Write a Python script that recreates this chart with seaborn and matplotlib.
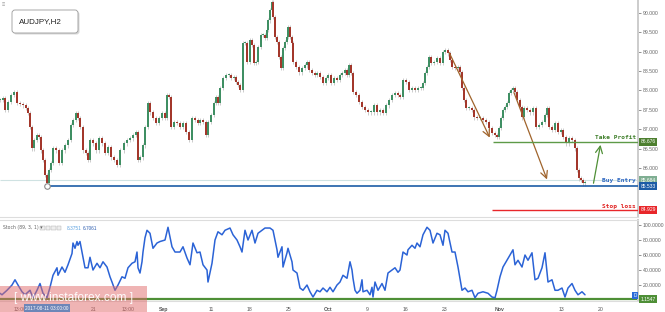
import matplotlib
matplotlib.use("Agg")
import matplotlib.pyplot as plt
import matplotlib.transforms as mtransforms
from matplotlib.patches import FancyBboxPatch, Rectangle
import seaborn as sns
import pandas as pd
import numpy as np

# ---------------- data (time axis in chart time-units, ~3 trading hours each) ----------------
price_t = [0, 3, 5, 8, 11, 14, 17, 20, 23, 26,
           28, 30, 32, 34, 37, 39, 41, 43, 45, 47,
           49, 51, 53, 56, 59, 62, 65, 68, 71, 73,
           76, 78, 80, 83, 86, 88, 90, 93, 96, 99,
           102, 105, 108, 111, 114, 117, 120, 124, 127, 130,
           133, 136, 138, 140, 143, 145, 148, 150, 153, 156,
           159, 162, 165, 167, 169, 171, 174, 177, 180, 183,
           186, 189, 192, 195, 198, 200, 203, 206, 208, 211,
           214, 216, 218, 220, 223, 226, 229, 231, 234, 236,
           238, 240, 243, 245, 247, 250, 252, 254, 256, 258,
           261, 263, 265, 267, 268, 270, 272, 273, 275, 277,
           279, 281, 283, 285, 287, 288, 290, 292, 293, 296,
           299, 302, 305, 307, 309, 312, 315, 317, 320, 323,
           326, 328, 331, 334, 337, 340, 342, 345, 347, 349,
           351, 353, 356, 359, 362, 365, 368, 371, 374, 377,
           380, 383, 386, 389, 392, 395, 398, 400, 403, 406,
           409, 412, 415, 418, 421, 423, 425, 427, 429, 431,
           434, 437, 440, 443, 445, 448, 450, 452, 455, 458,
           460, 462, 464, 466, 469, 472, 474, 477, 480, 483,
           486, 489, 492, 495, 497, 499, 501, 503, 505, 507,
           509, 511, 513, 515, 517, 520, 522, 524, 527, 530,
           533, 536, 539, 542, 545, 547, 549, 552, 555, 558,
           561, 563, 566, 569, 572, 575, 577, 579, 581, 583,
           585]
price_close = [87.75, 87.80, 87.50, 87.70, 87.88, 87.96, 87.68, 87.65, 87.62, 87.55,
               87.42, 87.06, 86.51, 86.72, 86.85, 86.80, 86.46, 86.21, 85.82, 85.61,
               85.95, 86.13, 86.51, 86.46, 86.13, 86.46, 86.59, 86.72, 87.11, 87.24,
               87.42, 87.29, 87.06, 86.46, 86.39, 86.21, 86.72, 86.64, 86.46, 86.77,
               86.64, 86.39, 86.54, 86.28, 86.21, 86.08, 86.46, 86.64, 86.72, 86.77,
               86.85, 86.93, 86.21, 86.28, 86.59, 87.06, 87.68, 87.44, 87.29, 87.16,
               87.29, 87.42, 87.29, 87.88, 87.83, 87.06, 87.19, 87.16, 87.06, 87.16,
               86.93, 86.72, 87.29, 87.24, 87.16, 87.24, 87.19, 86.85, 87.19, 87.37,
               87.68, 87.83, 87.68, 88.06, 88.32, 88.40, 88.40, 88.32, 88.35, 88.22,
               88.14, 88.01, 89.22, 89.22, 88.73, 89.30, 89.17, 88.71, 88.73, 89.12,
               89.43, 89.43, 89.35, 89.56, 89.81, 90.07, 90.28, 89.89, 89.38, 89.25,
               88.86, 88.58, 89.09, 89.25, 89.38, 89.63, 89.38, 89.22, 88.73, 88.60,
               88.47, 88.58, 88.65, 88.73, 88.53, 88.45, 88.40, 88.45, 88.35, 88.19,
               88.32, 88.40, 88.19, 88.32, 88.27, 88.40, 88.45, 88.53, 88.40, 88.65,
               88.45, 87.96, 87.88, 87.70, 87.57, 87.50, 87.44, 87.44, 87.62, 87.44,
               87.50, 87.42, 87.62, 87.75, 87.88, 87.93, 87.88, 87.83, 88.27, 88.22,
               88.01, 88.06, 88.01, 88.06, 88.06, 88.19, 88.45, 88.60, 88.86, 88.71,
               88.73, 88.84, 88.71, 88.99, 89.04, 88.96, 88.78, 88.60, 88.58, 88.60,
               88.47, 88.06, 87.75, 87.55, 87.55, 87.50, 87.31, 87.29, 87.29, 87.24,
               87.19, 87.03, 86.90, 86.85, 86.80, 87.03, 87.29, 87.50, 87.57, 87.68,
               87.93, 88.01, 88.06, 87.96, 87.75, 87.57, 87.31, 87.55, 87.50, 87.44,
               87.55, 87.06, 87.11, 87.19, 87.37, 87.55, 87.06, 86.98, 87.16, 86.93,
               86.98, 86.80, 86.64, 86.77, 86.72, 86.51, 85.95, 85.74, 85.69, 85.61,
               85.64]

stoch_t = [0, 2, 7, 12, 15, 18, 22, 25, 30, 33,
           37, 40, 43, 47, 50, 53, 57, 58, 62, 65,
           68, 72, 73, 75, 77, 78, 80, 82, 85, 88,
           90, 93, 97, 100, 103, 107, 110, 112, 115, 118,
           122, 125, 128, 132, 135, 137, 138, 140, 142, 143,
           145, 147,
           150, 153, 157, 160, 165, 168, 172, 175, 180, 183,
           187, 190, 193, 197, 200, 203, 207, 208, 212, 215,
           218, 222, 225, 230, 233, 237, 240, 242, 245, 248,
           252, 255, 258, 262, 265, 270, 273, 277, 278, 282,
           283, 287, 288, 292, 293, 297, 300, 303, 307, 310,
           313, 317, 320, 323, 327, 330, 333, 337, 340, 343,
           347, 350, 352, 353, 355, 357, 360, 362, 363, 367,
           370, 372, 373, 375, 378, 382, 385, 388, 392, 395,
           398,
           400, 402, 403, 407, 408, 412, 415, 417, 420, 423,
           427, 430, 433, 437, 440, 443, 445, 448, 452, 455,
           458, 462, 465, 468, 472, 475, 478, 483, 488, 492,
           495, 497, 500, 503, 507, 510, 513, 515, 518, 522,
           525, 528, 532, 535, 538, 542, 545, 548, 552, 555,
           558, 562, 565, 568, 572, 575, 578, 582, 585]
stoch_k = [9, 7, 13, 20, 27, 20, 11, 7, 13, 3,
           13, 22, 9, 3, 17, 33, 43, 33, 44, 37,
           47, 62, 76, 69, 78, 73, 78, 64, 43, 43,
           57, 40, 49, 43, 51, 44, 31, 24, 13, 20,
           31, 29, 43, 49, 51, 64, 43, 36, 51, 64,
           83, 93,
           89, 69, 76, 78, 80, 97, 71, 64, 64, 71,
           56, 47, 76, 63, 64, 47, 40, 24, 49, 80,
           91, 87, 93, 96, 87, 80, 71, 64, 93, 80,
           93, 76, 89, 93, 96, 96, 93, 67, 57, 71,
           44, 63, 69, 51, 40, 36, 16, 13, 20, 11,
           4, 13, 11, 16, 11, 17, 11, 20, 24, 33,
           29, 51, 40, 29, 13, 9, 13, 27, 11, 13,
           7, 17, 4, 24, 13, 22, 13, 36, 40, 43,
           37,
           40, 56, 64, 60, 67, 73, 69, 76, 71, 87,
           97, 93, 76, 89, 87, 73, 93, 89, 64, 64,
           44, 13, 16, 11, 13, 3, 9, 11, 9, 4,
           3, 13, 31, 44, 53, 60, 67, 47, 53, 44,
           60, 53, 63, 27, 29, 43, 63, 24, 27, 13,
           13, 16, 4, 16, 22, 13, 7, 11, 7]

x_tick_pos = [20, 94, 128, 164, 211, 250, 289, 328, 367, 406, 445, 500, 562, 601]
x_tick_lab = ["13:00", "21", "13:00", "Sep", "11", "18", "25", "Oct", "9", "16", "23", "Nov", "13", "20"]
price_ticks = [86.0, 86.5, 87.0, 87.5, 88.0, 88.5, 89.0, 89.5, 90.0]
stoch_ticks = [20, 40, 60, 80, 100]

take_profit = 86.676
buy_entry = 85.533
stop_loss = 84.929
ref_level = 85.684
stoch_level = 1.1547
stoch_k_last, stoch_d_last = 8.3751, 6.7061

# ---------------- figure ----------------
sns.set_style("white")
plt.rcParams['font.family'] = ['Liberation Sans', 'DejaVu Sans']

W, H = 665, 312
fig = plt.figure(figsize=(W / 100, H / 100), dpi=100)
axw = 638 / W
ax = fig.add_axes([0, 1 - 217 / H, axw, 217 / H])
ax2 = fig.add_axes([0, 1 - 301 / H, axw, 81 / H])

# ---- price panel: candles ----
t = np.array(price_t, float)
c = np.array(price_close, float)
o = np.r_[c[0], c[:-1]]
up = c >= o
wick = 0.06
ax.vlines(t, np.minimum(o, c) - wick, np.maximum(o, c) + wick, color="#c4c4c4", lw=0.6, zorder=2)
body = np.maximum(np.abs(c - o), 0.02)
bot = np.minimum(o, c)
ax.bar(t[up], body[up], bottom=bot[up], width=1.3, color="#3f8f63", linewidth=0, zorder=3)
ax.bar(t[~up], body[~up], bottom=bot[~up], width=1.3, color="#a3372b", linewidth=0, zorder=3)

ax.set_xlim(0, 638)
ax.set_ylim(84.74, 90.33)
ax.yaxis.tick_right()
ax.set_yticks(price_ticks)
ax.set_yticklabels([f"{v:.3f}" for v in price_ticks])
ax.tick_params(axis="y", labelsize=3.7, colors="#666666", length=2, width=0.5, pad=1.5, direction="out")
ax.set_xticks([])
for s in ["left", "top"]:
    ax.spines[s].set_visible(False)
ax.spines["right"].set_color("#cccccc")
ax.spines["right"].set_linewidth(1.4)
ax.spines["bottom"].set_color("#dddddd")
ax.spines["bottom"].set_linewidth(0.8)

# levels
ax.hlines(ref_level, 0, 638, color="#cfe2e2", lw=0.8, zorder=1)
ax.hlines(buy_entry, 47, 638, color="#1d5ca6", lw=1.2, zorder=4)
ax.hlines(take_profit, 493, 638, color="#5e9a48", lw=1.0, zorder=4)
ax.hlines(stop_loss, 492, 638, color="#e8262a", lw=1.0, zorder=4)
ax.plot([47], [85.54], "o", mfc="white", mec="#8a8a8a", ms=4, mew=0.8, zorder=5)

mono = dict(family=["DejaVu Sans Mono"], fontsize=4.4, fontweight="bold", ha="right", va="center")
ax.text(636, 86.80, "Take Profit", color="#3f7f2a", **mono)
ax.text(636, 85.67, "Buy Entry", color="#2a64c0", **mono)
ax.text(636, 85.02, "Stop loss", color="#e0201f", **mono)

# arrows
arr = dict(arrowstyle="->,head_length=0.5,head_width=0.25", lw=0.9)
ax.annotate("", xy=(491, 86.72), xytext=(448, 89.04), arrowprops=dict(color="#a0642c", **arr))
ax.annotate("", xy=(548, 85.64), xytext=(513, 88.01), arrowprops=dict(color="#a0642c", **arr))
ax.annotate("", xy=(601, 86.67), xytext=(593, 85.54), arrowprops=dict(color="#4f8f36", **arr))

# right value boxes
blend = mtransforms.blended_transform_factory(ax.transAxes, ax.transData)
def vbox(a, tr, y, txt, fc):
    a.text(1.004, y, txt, transform=tr, fontsize=3.6, color="white", ha="left", va="center",
           bbox=dict(boxstyle="square,pad=0.28", fc=fc, ec="none"), clip_on=False, zorder=10)
vbox(ax, blend, take_profit, "86.676", "#4d7f2f")
vbox(ax, blend, ref_level, "85.684", "#7fae92")
vbox(ax, blend, buy_entry, "85.533", "#1d5ca6")
vbox(ax, blend, stop_loss, "84.929", "#e8262a")

# ---- stochastic panel ----
sdf = pd.DataFrame({"t": stoch_t, "k": stoch_k})
sns.lineplot(data=sdf, x="t", y="k", ax=ax2, color="#2b63d6", lw=1.1, zorder=3)
ax2.axhline(stoch_level, color="#4e8f36", lw=1.6, zorder=2)
ax2.set_xlim(0, 638)
ax2.set_ylim(-1.3, 106.7)
ax2.set_xlabel("")
ax2.set_ylabel("")
ax2.yaxis.tick_right()
ax2.set_yticks(stoch_ticks)
ax2.set_yticklabels([f"{v:.4f}" for v in stoch_ticks])
ax2.tick_params(axis="y", labelsize=3.7, colors="#666666", length=2, width=0.5, pad=1.5)
ax2.set_xticks(x_tick_pos)
ax2.set_xticklabels(x_tick_lab)
ax2.tick_params(axis="x", labelsize=3.7, colors="#555555", length=1.5, width=0.5, pad=2.5)
for lab in ax2.get_xticklabels():
    if lab.get_text() in ("Sep", "Oct", "Nov"):
        lab.set_fontweight("bold")
ax2.spines["left"].set_visible(False)
ax2.spines["right"].set_color("#cccccc")
ax2.spines["right"].set_linewidth(1.4)
ax2.spines["top"].set_color("#dddddd")
ax2.spines["top"].set_linewidth(0.8)
ax2.spines["bottom"].set_color("#dddddd")
ax2.spines["bottom"].set_linewidth(0.8)
blend2 = mtransforms.blended_transform_factory(ax2.transAxes, ax2.transData)
vbox(ax2, blend2, stoch_level, "1.1547", "#4e8f36")

# ---- overlay (pixel coordinates) ----
ov = fig.add_axes([0, 0, 1, 1], zorder=20)
ov.set_xlim(0, W)
ov.set_ylim(H, 0)
ov.axis("off")
ov.patch.set_alpha(0)

# title box
ov.add_patch(FancyBboxPatch((13.5, 11.5), 66, 23, boxstyle="round,pad=0,rounding_size=3",
                            fc="#d8d8d8", ec="none"))
ov.add_patch(FancyBboxPatch((12, 10), 66, 23, boxstyle="round,pad=0,rounding_size=3",
                            fc="white", ec="#9a9a9a", lw=0.6))
ov.text(19, 21.5, "AUDJPY,H2", fontsize=5.8, color="#222222", ha="left", va="center")
ov.text(2, 5, "≡", fontsize=4, color="#9a9a9a", ha="left", va="center")

# stoch header
ov.text(3, 228, "Stoch (89, 3, 1) ▾", fontsize=3.3, color="#666666", ha="left", va="center",
        family=["DejaVu Sans"])
for i in range(4):
    ov.add_patch(Rectangle((40 + i * 5.5, 225.5), 4.5, 4.5, fc="#eeeeee", ec="#aaaaaa", lw=0.3))
ov.text(67, 228, f"{stoch_k_last:.4f}", fontsize=3.4, color="#5aa0e0", ha="left", va="center")
ov.text(83, 228, f"{stoch_d_last:.4f}", fontsize=3.4, color="#2e5eb0", ha="left", va="center")

# D marker
ov.add_patch(Rectangle((632, 292), 6, 7, fc="#2a6ad8", ec="none"))
ov.text(635, 295.5, "D", fontsize=3.3, color="white", ha="center", va="center")

# watermark
ov.add_patch(Rectangle((0, 286), 147, 26, fc="#e06a6a", ec="none", alpha=0.5))
ov.text(74, 298, "[ www.instaforex.com ]", fontsize=8.6, color="white", ha="center", va="center",
        alpha=0.95)
ov.text(47, 308, "2017-08-11 03:00:00", fontsize=3.4, color="white", ha="center", va="center",
        bbox=dict(boxstyle="square,pad=0.3", fc="#6d86b8", ec="none"))

fig.savefig("out.png", dpi=100)
